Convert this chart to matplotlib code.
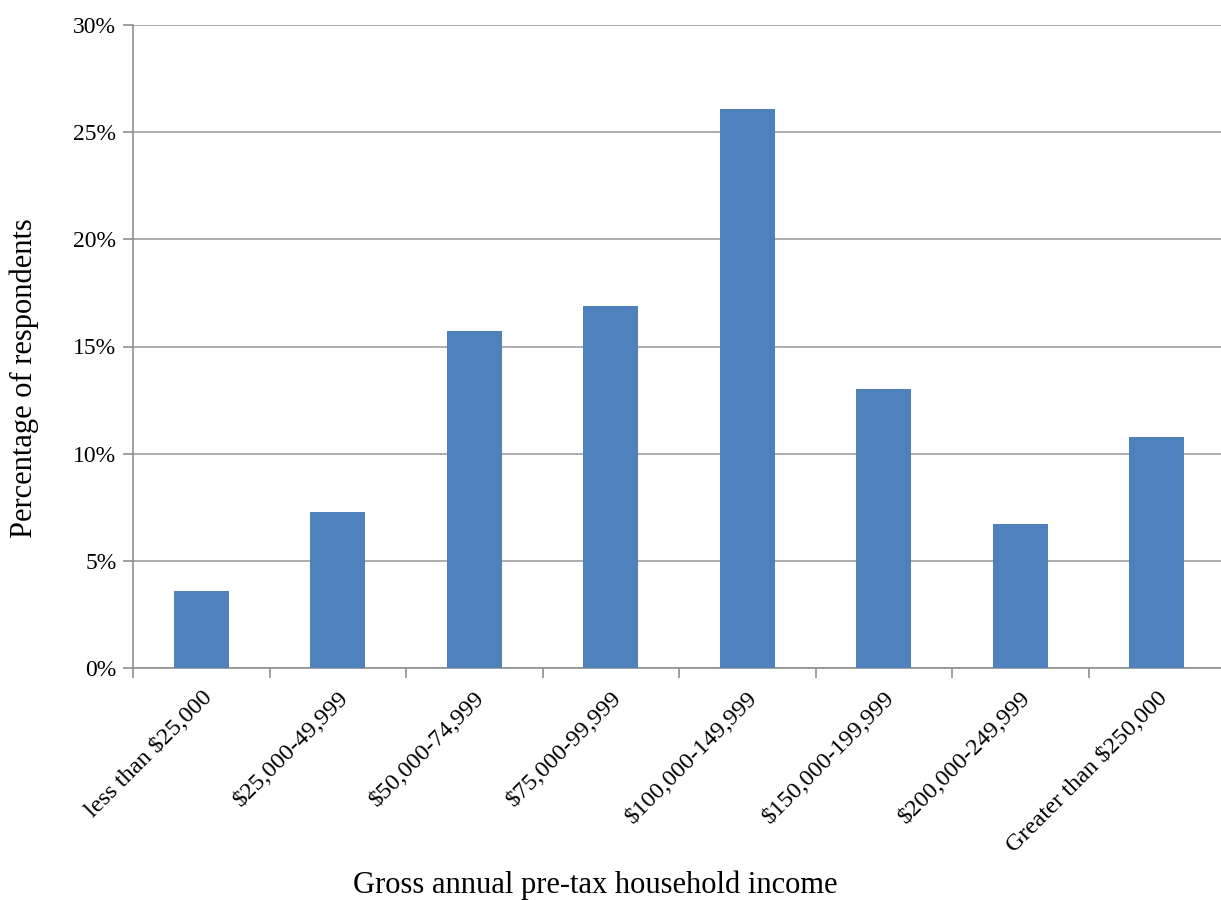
import matplotlib
matplotlib.use("Agg")
import matplotlib.pyplot as plt
from matplotlib.ticker import FuncFormatter, MultipleLocator

categories = ["less than $25,000", "$25,000-49,999", "$50,000-74,999", "$75,000-99,999",
              "$100,000-149,999", "$150,000-199,999", "$200,000-249,999", "Greater than $250,000"]
values = [3.6, 7.3, 15.7, 16.9, 26.1, 13.0, 6.7, 10.8]

plt.rcParams['font.family'] = ['Liberation Serif', 'DejaVu Serif']

fig = plt.figure(figsize=(12.21, 9), dpi=100)
ax = fig.add_axes([133/1221, 1-668/900, 1092/1221, (668-25)/900])

x = list(range(len(categories)))
ax.bar(x, values, width=0.4, color="#4F81BD", zorder=3)
ax.set_xlim(-0.5, len(categories)-0.5)
ax.set_ylim(0, 30)
ax.yaxis.set_major_locator(MultipleLocator(5))
ax.yaxis.set_major_formatter(FuncFormatter(lambda v, p: f"{int(v)}%"))
ax.grid(axis='y', color="#A0A0A0", linewidth=1.2, zorder=0)

ax.set_xticks([i - 0.5 for i in range(len(categories)+1)])
ax.set_xticklabels([])
ax.set_xticks(x, minor=True)
ax.set_xticklabels(categories, minor=True, rotation=45, ha='right', rotation_mode='anchor', fontsize=17.5)
ax.tick_params(axis='x', which='minor', length=0, pad=14)
ax.tick_params(axis='x', which='major', length=7, color="#909090", width=1.2)
ax.tick_params(axis='y', length=7, color="#909090", width=1.2, labelsize=17, pad=5)

for s in ['top', 'right']:
    ax.spines[s].set_visible(False)
for s in ['left', 'bottom']:
    ax.spines[s].set_color("#909090")
    ax.spines[s].set_linewidth(1.2)

fig.text(595/1221, 1-885/900, "Gross annual pre-tax household income", ha='center', va='center', fontsize=22)
fig.text(24/1221, 1-378/900, "Percentage of respondents", ha='center', va='center', rotation=90, fontsize=22)

fig.savefig("out.png", dpi=100)
